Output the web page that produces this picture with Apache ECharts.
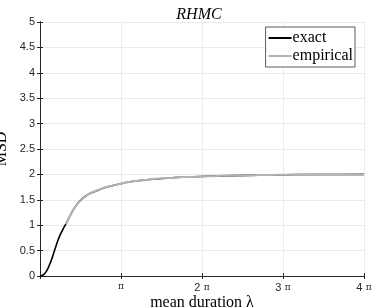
<!DOCTYPE html>
<html>
<head>
<meta charset="utf-8">
<script src="https://cdn.jsdelivr.net/npm/echarts@6/dist/echarts.min.js"></script>
<style>html,body{margin:0;padding:0;background:#fff;}#c{width:374px;height:308px;}</style>
</head>
<body>
<div id="c"></div>
<script>
var lambdaExact = [0,0.1,0.2,0.3,0.4,0.5,0.6,0.7,0.8,0.9,1.0,1.1,1.2,1.3,1.4,1.5,1.6,1.8,2.0,2.3,2.6,3.0,3.5,4.0,4.5,5.0,5.5,6.0,7.0,8.0,9.0,10.0,11.0,12.566];
var msdExact    = [0,0.015,0.06,0.14,0.26,0.40,0.56,0.71,0.83,0.93,1.02,1.12,1.22,1.31,1.385,1.45,1.505,1.585,1.64,1.70,1.75,1.80,1.855,1.885,1.91,1.93,1.945,1.955,1.97,1.98,1.99,1.995,1.998,2.0];
var lambdaEmp   = [1.0,1.1,1.2,1.3,1.4,1.5,1.6,1.8,2.0,2.3,2.6,3.0,3.5,4.0,4.5,5.0,5.5,6.0,6.5,7.0,7.5,8.0,8.5,9.0,9.5,10.0,10.5,11.0,11.5,12.0,12.566];
var msdEmp      = [1.02,1.12,1.22,1.31,1.385,1.45,1.505,1.585,1.643,1.70,1.752,1.80,1.857,1.883,1.912,1.928,1.947,1.953,1.962,1.972,1.976,1.982,1.988,1.99,1.992,1.99,1.994,1.998,1.997,2.0,2.0];
var yTicks = ['0','0.5','1','1.5','2','2.5','3','3.5','4','4.5','5'];
var xTickNames = ['', 'π', '2 π', '3 π', '4 π'];

var PI = Math.PI;
function pairs(xs, ys){ return xs.map(function(x,i){ return [x, ys[i]]; }); }

var chart = echarts.init(document.getElementById('c'), null, {renderer:'canvas'});
var axisColor = '#262626';
chart.setOption({
  animation: false,
  backgroundColor: '#fff',
  title: {
    text: 'RHMC', left: 194, top: 2, textAlign: 'center',
    textStyle: {fontFamily: 'Liberation Serif', fontStyle: 'italic', fontWeight: 'normal', fontSize: 16, color: '#000'}
  },
  legend: {
    orient: 'vertical', right: 19, top: 27,
    itemWidth: 23, itemHeight: 2, itemGap: 2, icon: 'rect',
    padding: [3, 2, 3, 3],
    borderColor: '#333', borderWidth: 0.8, backgroundColor: '#fff', borderRadius: 0,
    textStyle: {fontFamily: 'Liberation Serif', fontSize: 16, color: '#000', padding: [0,0,0,-4]},
    data: ['exact', 'empirical']
  },
  grid: {left: 40, right: 10, top: 22, bottom: 32, containLabel: false, outerBoundsMode: 'none'},
  xAxis: [{
    type: 'value', min: 0, max: 4*PI, interval: PI,
    axisLine: {show: true, lineStyle: {color: axisColor, width: 1}},
    axisTick: {show: true, inside: true, length: 3, lineStyle: {color: axisColor}},
    splitLine: {show: true, lineStyle: {color: '#ebebeb', width: 1}},
    axisLabel: {
      margin: 6, color: axisColor,
      formatter: function(v){
        var k = Math.round(v / PI);
        var s = xTickNames[k];
        if (!s) return '';
        if (k === 1) return '{p|π}';
        return '{n|' + k + '} {p|π}';
      },
      rich: {
        n: {fontFamily: 'Liberation Sans', fontSize: 11, color: axisColor},
        p: {fontFamily: 'DejaVu Serif', fontSize: 9, color: axisColor}
      }
    },
    name: 'mean duration λ', nameLocation: 'middle', nameGap: 19, nameMoveOverlap: false,
    nameTextStyle: {fontFamily: 'Liberation Serif', fontSize: 16, color: '#000'}
  }, {
    type: 'value', position: 'top', min: 0, max: 4*PI, interval: PI,
    axisLine: {show: true, lineStyle: {color: axisColor, width: 1}},
    axisTick: {show: true, inside: true, length: 3, lineStyle: {color: axisColor}},
    splitLine: {show: false}, axisLabel: {show: false}
  }],
  yAxis: [{
    type: 'value', min: 0, max: 5, interval: 0.5,
    axisLine: {show: true, lineStyle: {color: axisColor, width: 1}},
    axisTick: {show: true, inside: true, length: 3, lineStyle: {color: axisColor}},
    splitLine: {show: true, lineStyle: {color: '#ebebeb', width: 1}},
    axisLabel: {
      margin: 5, color: axisColor, fontFamily: 'Liberation Sans', fontSize: 11,
      formatter: function(v){ return yTicks[Math.round(v / 0.5)]; }
    },
    name: 'MSD', nameLocation: 'middle', nameGap: 30, nameRotate: 90, nameMoveOverlap: false,
    nameTextStyle: {fontFamily: 'Liberation Serif', fontSize: 16, color: '#000'}
  }, {
    type: 'value', position: 'right', min: 0, max: 5, interval: 0.5,
    axisLine: {show: true, lineStyle: {color: axisColor, width: 1}},
    axisTick: {show: true, inside: true, length: 3, lineStyle: {color: axisColor}},
    splitLine: {show: false}, axisLabel: {show: false}
  }],
  series: [{
    name: 'exact', type: 'line', data: pairs(lambdaExact, msdExact),
    smooth: 0.3, showSymbol: false, symbol: 'none',
    lineStyle: {color: '#000', width: 1.6}, itemStyle: {color: '#000'}, z: 3
  }, {
    name: 'empirical', type: 'line', data: pairs(lambdaEmp, msdEmp),
    smooth: 0.3, showSymbol: false, symbol: 'none',
    lineStyle: {color: '#b3b3b3', width: 2}, itemStyle: {color: '#b3b3b3'}, z: 4
  }]
});
</script>
</body>
</html>
